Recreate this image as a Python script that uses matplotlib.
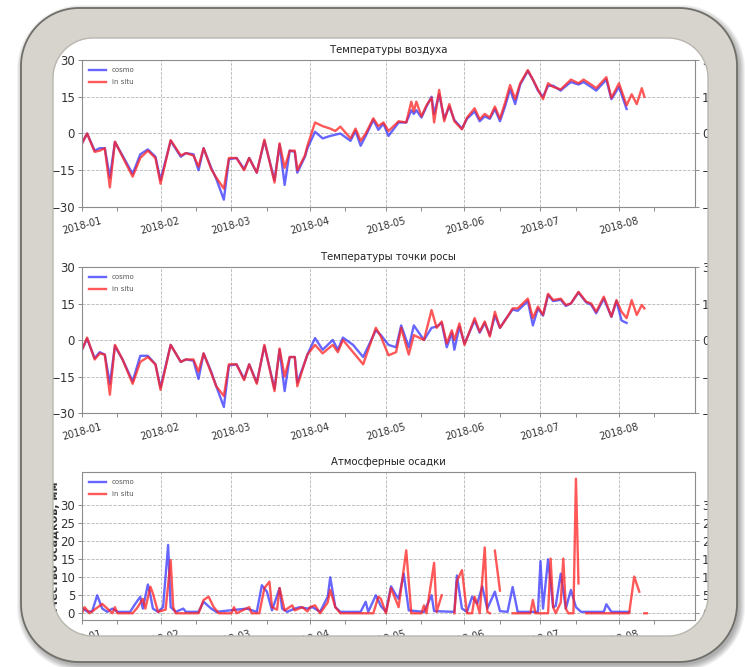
import numpy as np
import matplotlib
matplotlib.use('Agg')
import matplotlib.pyplot as plt
import matplotlib.dates as mdates
from matplotlib.path import Path
from matplotlib.patches import PathPatch

# ---- air temperature, days since 2018-01-01 ----
air_days = [0, 2, 5, 7, 9, 11, 13, 16, 20, 23,
            26, 29, 31, 35, 39, 41, 44, 46, 48, 51,
            53, 56, 58, 61, 64, 66, 69, 72, 76, 78,
            80, 82, 84, 85, 88, 89, 92, 95, 98, 100,
            102, 106, 108, 110, 112, 115, 117, 119, 121, 125,
            128, 130, 131, 132, 134, 136, 138, 139, 141, 143,
            145, 147, 150, 152, 155, 157, 159, 161, 163, 165,
            167, 169, 171, 173, 176, 178, 180, 182, 184, 186,
            189, 190, 193, 196, 198, 201, 203, 207, 209, 212,
            215, 217, 219, 221, 222]
air_cosmo = [-4, 0, -7, -6, -6, -18, -3.5, -9, -16.5, -8.5,
             -6.5, -9.5, -19, -3, -9.5, -8, -8.5, -15, -6, -14,
             -18.5, -27, -10.5, -10, -14.5, -10, -16, -3, -19, -4.5,
             -21, -7, -7.5, -16, -9.5, -6, 0.7, -2, -1, -0.5,
             0, -3, 1, -5, -1, 5.5, 1.5, 4, -1, 4.5,
             4.5, 9.5, 8, 9.5, 6.5, 11, 15, 8, 16, 6,
             11, 5.5, 2, 6, 9, 5, 7, 6, 10, 5,
             11, 18, 12, 20, 25.5, 22, 17.5, 15, 19.5, 19.5,
             17.5, 18.5, 21, 20, 21, 19, 17.5, 22, 14, 19,
             10, np.nan, np.nan, np.nan, np.nan]
air_insitu = [-4, 0, -7.5, -7, -6, -22, -3.3, -9.5, -17.6, -10,
              -7, -10, -20.5, -2.7, -9, -8, -9, -13.5, -6, -14.5,
              -18, -22.5, -10, -10, -15, -10, -16, -2.5, -20, -4,
              -14, -7, -7, -15, -9, -5, 4.5, 3, 2, 1,
              2.8, -2, 2, -3, 0, 6.2, 3, 4.5, 1, 5,
              4.5, 13, 9, 13, 7, 11.5, 14.6, 4.5, 17.8, 5,
              12, 5, 1.7, 6.5, 10.3, 5.8, 8, 6.5, 11, 6,
              12.5, 19.8, 14, 20.5, 25.9, 22, 18, 14, 20.5, 19,
              18, 19, 22, 20.5, 22, 20, 18.5, 23, 14.5, 20.5,
              11.5, 16, 12, 18.5, 15]

# ---- dew point ----
dew_days = [0, 2, 5, 7, 9, 11, 13, 16, 20, 23,
            26, 29, 31, 35, 39, 41, 44, 46, 48, 51,
            53, 56, 58, 61, 64, 66, 69, 72, 76, 78,
            80, 82, 84, 85, 88, 89, 92, 95, 99, 101,
            103, 107, 111, 116, 118, 121, 124, 126, 129, 131,
            135, 138, 140, 142, 144, 146, 147, 149, 151, 155,
            157, 159, 161, 163, 165, 167, 170, 172, 176, 178,
            180, 182, 184, 186, 189, 191, 193, 196, 199, 201,
            203, 206, 209, 211, 213, 215, 217, 219, 221, 222]
dew_cosmo = [-4, 0.5, -7.5, -5, -6, -18, -2.5, -8, -17, -6.5,
             -6.5, -10, -19.5, -2, -9, -8, -8.5, -16, -5.5, -13,
             -19, -27.5, -10.5, -10, -16, -10, -17.5, -2.5, -20, -4,
             -21, -7, -7, -17.5, -9, -6, 0.8, -4, 0, -4,
             1, -2, -7, 4, 2, -2, -3, 6, -3, 6,
             0, 5, 5.5, 7, -3, 3, -4, 5.5, -1.5, 8,
             3, 7, 2, 10, 5, 8.2, 12.5, 12, 16, 6,
             13, 10, 18.5, 16, 16.5, 14, 15, 19.5, 15.5, 14.5,
             11, 17, 9.5, 16, 8, 7, np.nan, np.nan, np.nan, np.nan]
dew_insitu = [-4, 1, -8, -5.5, -6, -22.5, -2, -8, -18, -9,
              -7, -10, -20.5, -2, -9, -8, -8, -13, -5.5, -13.5,
              -19, -23, -10, -10, -16.5, -10, -18, -2, -21, -3.5,
              -15, -7, -7, -19, -9, -6, -2, -5.5, -2, -5,
              0, -5, -10, 5, 1.4, -6.3, -5, 5, -6, 2,
              0, 12.3, 5, 7.6, -1.4, 4, 0, 6.8, -2, 9,
              3.4, 7.6, 1.4, 11.6, 5, 8, 13, 13, 17, 9,
              13.7, 10.3, 19, 16.4, 17, 14.4, 15, 19.8, 15.8, 15,
              11.6, 17.8, 9.6, 16.4, 11.6, 9, 16.4, 10.3, 14.4, 13]

# ---- precipitation, mm ----
rain_days_cosmo = [0, 2, 4, 6, 8, 10, 12, 14, 19, 21,
                   23, 24, 26, 27, 28, 30, 32, 34, 35, 37,
                   40, 41, 46, 48, 51, 53, 65, 69, 71, 73,
                   75, 78, 79, 81, 84, 86, 89, 91, 94, 97,
                   98, 100, 102, 110, 112, 113, 116, 118, 120, 122,
                   124, 125, 127, 129, 135, 138, 139, 147, 148, 150,
                   152, 154, 156, 158, 160, 163, 165, 168, 170, 172,
                   180, 181, 182, 184, 186, 187, 189, 191, 193, 195,
                   197, 206, 207, 209, 216]
rain_cosmo = [1.5, 0.5, 0.5, 5, 1.3, 0.4, 1.3, 0.4, 0.4, 2.6,
              4.6, 1.3, 8, 5, 1.3, 0.4, 1.7, 19, 1.7, 0.4,
              1.3, 0.4, 0.4, 3.2, 1.3, 0.4, 1.3, 0.4, 7.8, 6,
              0.8, 7, 1.3, 0.4, 1.3, 1.7, 1.3, 1.7, 0.4, 4.6,
              10, 1.7, 0.4, 0.4, 3.2, 0.4, 5, 2, 0.4, 7.5,
              5, 4, 11, 0.8, 0.4, 5, 0.6, 0.4, 10.5, 1.3,
              0.4, 4.6, 2.6, 7.5, 1.3, 6, 0.6, 0.4, 7.3, 0.4,
              0.4, 14.5, 1.3, 15, 1.7, 2, 11, 1.3, 6.5, 1.7,
              0.4, 0.4, 2.5, 0.4, 0.4]
rain_days_insitu = [0, 1, 3, 8, 10, 12, 13, 14, 20, 22,
                    24, 25, 27, 28, 30, 33, 35, 36, 37, 46,
                    48, 50, 52, 54, 59, 60, 61, 66, 67, 70,
                    72, 74, 75, 77, 78, 80, 83, 84, 87, 89,
                    90, 92, 94, 97, 98, 100, 102, 115, 117, 118,
                    120, 122, 125, 128, 130, 134, 135, 136, 139, 140,
                    142, 143, 147, 148, 150, 152, 154, 155, 156, 157,
                    159, 160, 161, 162, 163, 165, 166, 170, 177, 178,
                    179, 184, 185, 186, 187, 189, 190, 191, 192, 194,
                    195, 196, 197, 199, 216, 218, 220, 221, 222, 223]
rain_insitu = [0, 1.7, 0, 2.6, 1.3, 0, 1.7, 0, 0, 1.7,
               4, 1.3, 7.4, 5.5, 0.4, 1, 14.8, 1.7, 0, 0,
               3.7, 4.6, 1.7, 0, 0, 1.7, 0, 1.7, 0, 0,
               7, 8.8, 1.7, 1, 7, 0.8, 2.2, 0.8, 1.7, 0.5,
               1.7, 2.2, 0, 3, 6.5, 1.7, 0, 0, 4.6, 4,
               0, 7, 1.7, 17.5, 0, 0, 2.2, 0, 14, 0.4,
               5, np.nan, 0, 9, 12, 0, 0, 4.6, 2.6, 0,
               18.3, 0.4, 0, np.nan, 17.4, 6.3, np.nan, 0, 0, 3.7,
               0, 0, 15.2, 1.7, 0, 3, 15.2, 1.3, 0, 0,
               37.4, 8.3, np.nan, 0, 0, 10.2, 6, np.nan, 0, 0]

start = np.datetime64('2018-01-01')


def to_dates(days):
    return start + np.array(days).astype('timedelta64[D]')


W, H = 745, 667
fig = plt.figure(figsize=(W / 100, H / 100), dpi=100)
fig.patch.set_facecolor('white')


def box(l, t, r, b):
    return [l / W, 1 - b / H, (r - l) / W, (b - t) / H]


blue = '#3434ff'
red = '#ff2020'


def draw_panel(ax, title, days_c, cosmo, days_i, insitu, yticks):
    ax.plot(to_dates(days_c), cosmo, color=blue, lw=1.7, alpha=0.75, label='cosmo')
    ax.plot(to_dates(days_i), insitu, color=red, lw=1.7, alpha=0.75, label='in situ')
    ax.set_title(title, fontsize=7.3, pad=5, color='#222222')
    ax.set_xlim(start, start + np.timedelta64(242, 'D'))
    ax.set_yticks(yticks)
    ax.xaxis.set_major_locator(mdates.MonthLocator())
    ax.xaxis.set_major_formatter(mdates.DateFormatter('%Y-%m'))
    ax.xaxis.set_minor_locator(mdates.DayLocator(bymonthday=15))
    ax.grid(True, which='major', ls='--', color='#b5b5b5', lw=0.6)
    ax.tick_params(which='both', direction='out', length=3, width=0.6,
                   color='#777777', labelcolor='#333333', right=True, labelright=True)
    ax.tick_params(axis='y', labelsize=8.5, pad=2)
    ax.tick_params(axis='x', labelsize=7, pad=3)
    for lab in ax.get_xticklabels():
        lab.set_rotation(15)
    for sp in ax.spines.values():
        sp.set_color('#8c8c8c')
        sp.set_linewidth(0.8)
    ax.legend(loc='upper left', fontsize=5, frameon=False, handlelength=2.5,
              borderaxespad=0.6, labelspacing=0.9, labelcolor='#555555')


ax1 = fig.add_axes(box(82, 60, 695, 207))
draw_panel(ax1, 'Температуры воздуха', air_days, air_cosmo, air_days, air_insitu,
           [-30, -15, 0, 15, 30])
ax1.set_ylim(-30, 30)

ax2 = fig.add_axes(box(82, 267, 695, 413))
draw_panel(ax2, 'Температуры точки росы', dew_days, dew_cosmo, dew_days, dew_insitu,
           [-30, -15, 0, 15, 30])
ax2.set_ylim(-30, 30)

ax3 = fig.add_axes(box(82, 472, 695, 620))
draw_panel(ax3, 'Атмосферные осадки', rain_days_cosmo, rain_cosmo,
           rain_days_insitu, rain_insitu, [0, 5, 10, 15, 20, 25, 30])
ax3.set_ylabel('Количество осадков, мм', fontsize=8, fontweight='bold', color='#333333')
ax3.yaxis.set_label_coords(-0.036, 0.40)


# rounded picture frame drawn over the charts
def rrect(x0, y0, x1, y1, r, n=24):
    pts = []
    for cx, cy, a in [(x1 - r, y0 + r, 270), (x1 - r, y1 - r, 0),
                      (x0 + r, y1 - r, 90), (x0 + r, y0 + r, 180)]:
        t = np.radians(np.linspace(a, a + 90, n))
        pts.append(np.column_stack([cx + r * np.cos(t), cy + r * np.sin(t)]))
    v = np.vstack(pts)
    return np.vstack([v, v[:1]])


def ring(outer, inner):
    return Path.make_compound_path(Path(outer, closed=True),
                                   Path(inner[::-1], closed=True))


ov = fig.add_axes([0, 0, 1, 1], zorder=10)
ov.set_xlim(0, W)
ov.set_ylim(H, 0)
ov.axis('off')

outer = rrect(21, 8, 737, 662, 58)
inner = rrect(53, 38, 708, 636, 40)

# soft shadow around the frame, heavier to the lower right
for i in range(7):
    sh = rrect(21 - i + 2, 8 - i + 3, 737 + i + 2, 662 + i + 3, 58 + i)
    ov.add_patch(PathPatch(ring(sh, inner), facecolor='black',
                           edgecolor='none', alpha=0.05))

ov.add_patch(PathPatch(ring(outer, inner), facecolor='#d6d4cc', edgecolor='none'))
ov.add_patch(PathPatch(Path(outer, closed=True), facecolor='none',
                       edgecolor='#6f6e69', lw=1.3))
ov.add_patch(PathPatch(Path(inner, closed=True), facecolor='none',
                       edgecolor='#b9b7af', lw=1.0))

fig.savefig('out.png', dpi=100, facecolor='white')
